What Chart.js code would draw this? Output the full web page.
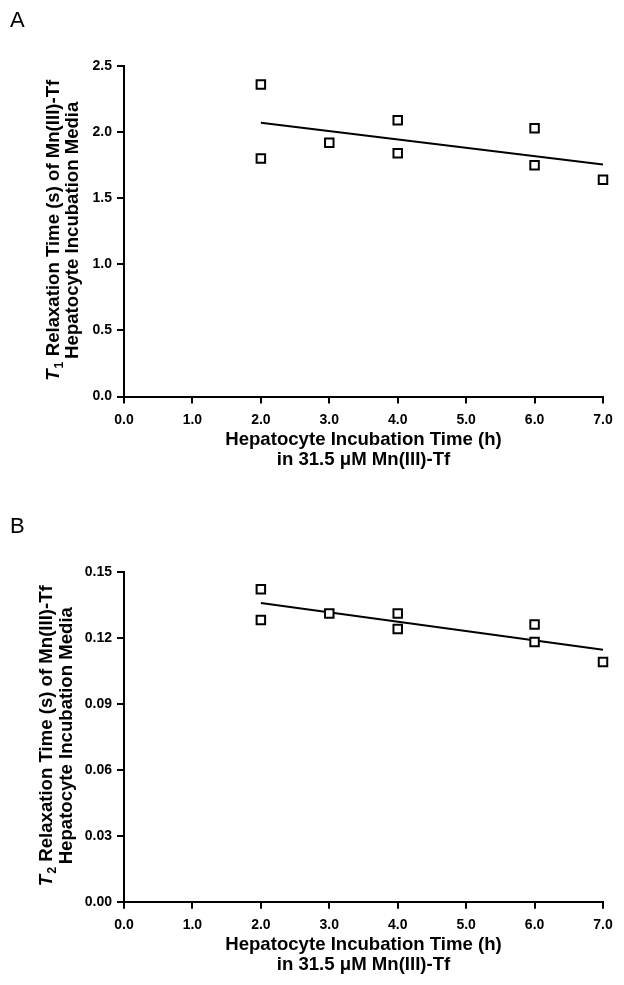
<!DOCTYPE html>
<html>
<head>
<meta charset="utf-8">
<script src="https://cdn.jsdelivr.net/npm/chart.js@4.4.1/dist/chart.umd.min.js"></script>
<style>
html,body{margin:0;padding:0;background:#fff;}
#wrapA{position:absolute;left:0;top:0;width:624px;height:490px;}
#wrapB{position:absolute;left:0;top:490px;width:624px;height:495px;}
canvas{display:block;}
</style>
</head>
<body>
<div id="wrapA"><canvas id="cA" width="624" height="490"></canvas></div>
<div id="wrapB"><canvas id="cB" width="624" height="495"></canvas></div>
<script>
// ---- data ----
const xTimes = [2, 2, 3, 4, 4, 6, 6, 7];
const t1Values = [2.36, 1.80, 1.92, 2.09, 1.84, 2.03, 1.75, 1.64];
const t2Values = [0.142, 0.128, 0.131, 0.131, 0.124, 0.126, 0.118, 0.109];
const fitX = [2, 7];
const t1Fit = [2.07, 1.755];
const t2Fit = [0.1358, 0.1145];
const xTickValues = [0, 1, 2, 3, 4, 5, 6, 7];
const xTickLabels = ['0.0', '1.0', '2.0', '3.0', '4.0', '5.0', '6.0', '7.0'];
const yTickValuesA = [0, 0.5, 1.0, 1.5, 2.0, 2.5];
const yTickLabelsA = ['0.0', '0.5', '1.0', '1.5', '2.0', '2.5'];
const yTickValuesB = [0, 0.03, 0.06, 0.09, 0.12, 0.15];
const yTickLabelsB = ['0.00', '0.03', '0.06', '0.09', '0.12', '0.15'];
const xTitleLines = ['Hepatocyte Incubation Time (h)', 'in 31.5 \u03BCM Mn(III)-Tf'];
const yTitleRest = ' Relaxation Time (s) of Mn(III)-Tf';
const yTitleLine2 = 'Hepatocyte Incubation Media';

const FAM = '"Liberation Sans", Arial, Helvetica, sans-serif';
const TS = 18.6;

function makePlugin(cfg) {
  return {
    id: 'decor' + cfg.letter,
    afterDraw(chart) {
      const ctx = chart.ctx;
      const ca = chart.chartArea;
      const cy = (ca.top + ca.bottom) / 2 - 1;
      // panel letter
      ctx.save();
      ctx.fillStyle = '#000';
      ctx.font = '22px ' + FAM;
      ctx.textAlign = 'left';
      ctx.textBaseline = 'alphabetic';
      ctx.fillText(cfg.letter, 10, cfg.letterY);
      ctx.restore();
      // y title line 1
      const fB = 'bold ' + TS + 'px ' + FAM;
      const fI = 'italic bold ' + TS + 'px ' + FAM;
      const fS = 'bold 12.5px ' + FAM;
      ctx.save();
      ctx.fillStyle = '#000';
      ctx.translate(cfg.yt1, cy);
      ctx.rotate(-Math.PI / 2);
      ctx.textAlign = 'left';
      ctx.textBaseline = 'alphabetic';
      ctx.font = fI; const wT = ctx.measureText('T').width;
      ctx.font = fS; const wS = ctx.measureText(cfg.sub).width;
      ctx.font = fB; const wR = ctx.measureText(yTitleRest).width;
      let x = -(wT + wS + 1 + wR) / 2;
      ctx.font = fI; ctx.fillText('T', x, 0); x += wT + 1;
      ctx.font = fS; ctx.fillText(cfg.sub, x, 4); x += wS;
      ctx.font = fB; ctx.fillText(yTitleRest, x, 0);
      ctx.restore();
      // y title line 2
      ctx.save();
      ctx.fillStyle = '#000';
      ctx.translate(cfg.yt2, cy);
      ctx.rotate(-Math.PI / 2);
      ctx.textAlign = 'center';
      ctx.textBaseline = 'alphabetic';
      ctx.font = fB;
      ctx.fillText(yTitleLine2, 0, 0);
      ctx.restore();
    }
  };
}

function makeChart(canvas, cfg) {
  return new Chart(canvas, {
    type: 'scatter',
    data: {
      datasets: [
        {
          data: xTimes.map((x, i) => ({ x: x, y: cfg.values[i] })),
          pointStyle: 'rect',
          pointRadius: 6,
          pointBorderWidth: 2,
          borderColor: '#000',
          backgroundColor: '#fff',
          showLine: false,
          clip: false,
          order: 0
        },
        {
          data: fitX.map((x, i) => ({ x: x, y: cfg.fit[i] })),
          showLine: true,
          pointRadius: 0,
          borderColor: '#000',
          borderWidth: 2,
          fill: false,
          clip: false,
          order: 1
        }
      ]
    },
    options: {
      responsive: false,
      devicePixelRatio: 1,
      animation: false,
      events: [],
      layout: { padding: { left: 0, right: 21, top: cfg.padTop, bottom: 0 } },
      plugins: { legend: { display: false }, tooltip: { enabled: false } },
      scales: {
        x: {
          type: 'linear',
          min: 0, max: 7,
          afterBuildTicks: s => { s.ticks = xTickValues.map(v => ({ value: v })); },
          afterFit: s => { s.height = cfg.xH; },
          grid: { drawOnChartArea: false, drawTicks: true, tickLength: 7, color: '#000', lineWidth: 2 },
          border: { display: true, color: '#000', width: 2 },
          ticks: {
            color: '#000', padding: 8, maxRotation: 0, autoSkip: false,
            font: { family: FAM, size: 14, weight: 'bold' },
            callback: (v, i) => xTickLabels[i]
          },
          title: {
            display: true, text: xTitleLines, color: '#000',
            font: { family: FAM, size: TS, weight: 'bold', lineHeight: 20 / TS },
            padding: { top: 0, bottom: cfg.titlePad }
          }
        },
        y: {
          type: 'linear',
          min: 0, max: cfg.yMax,
          afterBuildTicks: s => { s.ticks = cfg.yVals.map(v => ({ value: v })); },
          afterFit: s => { s.width = 124; },
          grid: { drawOnChartArea: false, drawTicks: true, tickLength: 7, color: '#000', lineWidth: 2 },
          border: { display: true, color: '#000', width: 2 },
          ticks: {
            color: '#000', padding: 5, autoSkip: false,
            font: { family: FAM, size: 14, weight: 'bold' },
            callback: (v, i) => cfg.yLabels[i]
          }
        }
      }
    },
    plugins: [makePlugin(cfg)]
  });
}

makeChart(document.getElementById('cA'), {
  letter: 'A', letterY: 27, sub: '1', yt1: 58.5, yt2: 78,
  values: t1Values, fit: t1Fit, yMax: 2.5, yVals: yTickValuesA, yLabels: yTickLabelsA,
  padTop: 66, xH: 93.5, titlePad: 20.5
});
makeChart(document.getElementById('cB'), {
  letter: 'B', letterY: 42.7, sub: '2', yt1: 52, yt2: 72,
  values: t2Values, fit: t2Fit, yMax: 0.15, yVals: yTickValuesB, yLabels: yTickLabelsB,
  padTop: 81.7, xH: 83.3, titlePad: 10.5
});
</script>
</body>
</html>
